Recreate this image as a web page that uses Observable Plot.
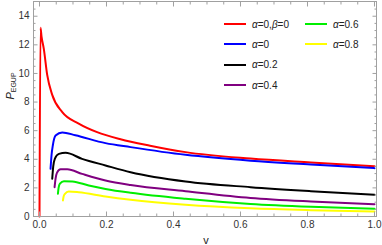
<!DOCTYPE html>
<html>
<head>
<meta charset="utf-8">
<script src="https://cdn.jsdelivr.net/npm/d3@7"></script>
<script src="https://cdn.jsdelivr.net/npm/@observablehq/plot@0.6"></script>
<style>
  html, body { margin: 0; padding: 0; background: #fff; }
  #wrap { position: relative; width: 382px; height: 245px; font-family: "Liberation Sans", Arial, sans-serif; overflow: hidden; }
  #wrap svg { position: absolute; left: 0; top: 0; }
  .lg { position: absolute; display: flex; align-items: center; font-size: 10px; color: #222; white-space: nowrap; }
  .lg .sw { display: inline-block; width: 22px; height: 2px; margin-right: 6px; }
  .ylab { position: absolute; left: 10px; top: 86px; transform: translate(-50%, -50%) rotate(-90deg); font-size: 11px; color: #222; white-space: nowrap; }
  .ylab sub { font-size: 7px; vertical-align: -2px; }
  .xlab { position: absolute; left: 206px; bottom: 0px; height: 10px; line-height: 10px; transform: translateX(-50%); font-size: 11px; color: #222; }
</style>
</head>
<body>
<div id="wrap"></div>
<script>
// ---- data ----
const seriesNames = ["α=0,β=0", "α=0", "α=0.2", "α=0.4", "α=0.6", "α=0.8"];
const seriesColors = ["#ff0000", "#0000ff", "#000000", "#800080", "#00ee00", "#ffff00"];

const vRed = [0, 0.003, 0.006, 0.013, 0.023, 0.038, 0.068, 0.117, 0.172, 0.242, 0.33, 0.436, 0.63, 0.81, 1.0];
const pRed = [0, 13.2, 12.6, 11.7, 9.9, 8.5, 7.3, 6.5, 5.9, 5.4, 4.95, 4.5, 4.05, 3.78, 3.52];

const vBlue = [0.033, 0.036, 0.040, 0.048, 0.068, 0.107, 0.197, 0.272, 0.436, 0.63, 0.81, 1.0];
const pBlue = [3.33, 4.3, 5.0, 5.66, 5.88, 5.68, 5.13, 4.85, 4.31, 3.9, 3.64, 3.38];

const vBlack = [0.038, 0.041, 0.046, 0.058, 0.078, 0.127, 0.197, 0.272, 0.436, 0.63, 0.81, 1.0];
const pBlack = [2.64, 3.5, 4.05, 4.38, 4.45, 4.03, 3.57, 3.1, 2.45, 2.05, 1.77, 1.52];

const vPurple = [0.045, 0.048, 0.052, 0.063, 0.083, 0.127, 0.197, 0.272, 0.436, 0.63, 0.81, 1.0];
const pPurple = [2.05, 2.65, 3.05, 3.3, 3.3, 2.98, 2.52, 2.2, 1.77, 1.3, 1.05, 0.86];

const vGreen = [0.055, 0.057, 0.061, 0.073, 0.098, 0.147, 0.197, 0.272, 0.436, 0.63, 0.81, 1.0];
const pGreen = [1.59, 2.0, 2.3, 2.47, 2.45, 2.17, 1.93, 1.66, 1.24, 0.88, 0.68, 0.54];

const vYellow = [0.07, 0.072, 0.076, 0.087, 0.117, 0.197, 0.272, 0.436, 0.63, 0.81, 1.0];
const pYellow = [1.12, 1.4, 1.58, 1.75, 1.7, 1.4, 1.17, 0.82, 0.57, 0.44, 0.35];

const xTicks = [0, 0.2, 0.4, 0.6, 0.8, 1.0];
const xMinorTicks = [0.05,0.1,0.15,0.25,0.3,0.35,0.45,0.5,0.55,0.65,0.7,0.75,0.85,0.9,0.95];
const yTicks = [0, 2, 4, 6, 8, 10, 12, 14];
const yMinorTicks = [0.5,1,1.5,2.5,3,3.5,4.5,5,5.5,6.5,7,7.5,8.5,9,9.5,10.5,11,11.5,12.5,13,13.5,14.5];

const xLabel = "v";
// ---- build table ----
const vs = [vRed, vBlue, vBlack, vPurple, vGreen, vYellow];
const ps = [pRed, pBlue, pBlack, pPurple, pGreen, pYellow];
const rows = [];
seriesNames.forEach((s, i) => vs[i].forEach((v, j) => rows.push({s, v, p: ps[i][j]})));

const frameC = "#a0a0a0";
const none = () => "";
const chart = Plot.plot({
  width: 382, height: 245,
  marginLeft: 33, marginRight: 6, marginTop: 1, marginBottom: 29,
  style: {fontFamily: "'Liberation Sans', Arial, sans-serif", fontSize: "10px", background: "transparent", overflow: "visible"},
  x: {domain: [-0.0179, 1.006]},
  y: {domain: [0, 15.03]},
  color: {domain: seriesNames, range: seriesColors},
  marks: [
    Plot.line(rows, {x: "v", y: "p", z: "s", stroke: "s", strokeWidth: 2, curve: "monotone-x"}),
    Plot.frame({stroke: frameC}),
    Plot.axisX(xTicks, {anchor: "bottom", tickSize: 0, tickPadding: 4, tickFormat: d3.format(".1f"), label: null, fill: "#333"}),
    Plot.axisX(xTicks, {anchor: "bottom", tickSize: -4.5, tickFormat: none, label: null, stroke: frameC}),
    Plot.axisX(xMinorTicks, {anchor: "bottom", tickSize: -2.5, tickFormat: none, label: null, stroke: frameC}),
    Plot.axisX(xTicks, {anchor: "top", tickSize: -4.5, tickFormat: none, label: null, stroke: frameC}),
    Plot.axisX(xMinorTicks, {anchor: "top", tickSize: -2.5, tickFormat: none, label: null, stroke: frameC}),
    Plot.axisY(yTicks, {anchor: "left", tickSize: 0, tickPadding: 4, tickFormat: d3.format("d"), label: null, fill: "#333"}),
    Plot.axisY(yTicks, {anchor: "left", tickSize: -4.5, tickFormat: none, label: null, stroke: frameC}),
    Plot.axisY(yMinorTicks, {anchor: "left", tickSize: -2.5, tickFormat: none, label: null, stroke: frameC}),
    Plot.axisY(yTicks, {anchor: "right", tickSize: -4.5, tickFormat: none, label: null, stroke: frameC}),
    Plot.axisY(yMinorTicks, {anchor: "right", tickSize: -2.5, tickFormat: none, label: null, stroke: frameC})
  ]
});
const wrap = document.getElementById("wrap");
wrap.appendChild(chart);

// legend (inside plot, top-right, two columns)
seriesNames.forEach((s, i) => {
  const col = i < 4 ? 0 : 1, row = i < 4 ? i : i - 4;
  const d = document.createElement("div");
  d.className = "lg";
  d.style.left = (col === 0 ? 224 : 305) + "px";
  d.style.top = (24 + row * 20.4 - 6) + "px";
  d.style.height = "12px";
  const label = s.replace(/([αβ])/g, "<i>$1</i>");
  d.innerHTML = `<span class="sw" style="background:${seriesColors[i]}"></span><span>${label}</span>`;
  wrap.appendChild(d);
});
const yl = document.createElement("div");
yl.className = "ylab";
yl.innerHTML = "<i>P</i><sub>EGUP</sub>";
wrap.appendChild(yl);
const xl = document.createElement("div");
xl.className = "xlab";
xl.textContent = xLabel;
wrap.appendChild(xl);
</script>
</body>
</html>
